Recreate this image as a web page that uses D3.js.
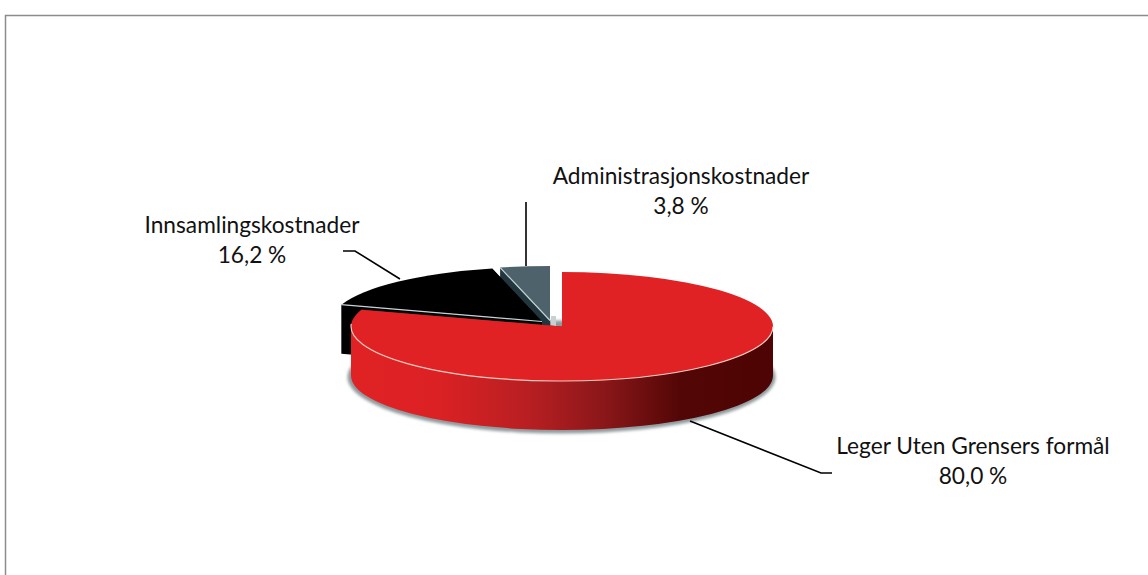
<!DOCTYPE html>
<html>
<head>
<meta charset="utf-8">
<script src="https://cdnjs.cloudflare.com/ajax/libs/d3/7.8.5/d3.min.js"></script>
<style>
  body { margin: 0; background: #fff; }
  svg { display: block; }
  text { font-family: Lato, "Open Sans", sans-serif; font-size: 22.7px; fill: #111; text-anchor: middle; }
</style>
</head>
<body>
<div id="chart"></div>
<script>
const categories = ["Leger Uten Grensers formål", "Innsamlingskostnader", "Administrasjonskostnader"];
const values = [80.0, 16.2, 3.8];
const valueLabels = ["80,0 %", "16,2 %", "3,8 %"];

const width = 1148;
const height = 575;
const cx = 562;
const cy = 326.5;
const rx = 211;
const ry = 54.5;
const depth = 49;

// how far each slice is pulled out of the pie, in pixels
const offsets = [[0, 0], [-20, -5], [-12, -6]];
const faceColors = ["#e02224", "#000000", "#4e626b"];
const cutColors = ["#a01a1c", "#000000", "#22363e"];
const labelPos = [[973, 454], [252, 233], [681, 184]];
const leaders = [
    [[690, 421], [821, 473], [832, 473]],
    [[400, 279], [355, 251], [343, 251]],
    [[526, 266], [526, 202]]
];

const svg = d3.select("#chart").append("svg")
    .attr("width", width)
    .attr("height", height);

const defs = svg.append("defs");

const wallGradient = defs.append("linearGradient")
    .attr("id", "wall")
    .attr("gradientUnits", "userSpaceOnUse")
    .attr("x1", cx - rx).attr("x2", cx + rx)
    .attr("y1", 0).attr("y2", 0);
[[0, "#e02224"], [0.2, "#dc2124"], [0.42, "#b81f22"], [0.6, "#8a1719"], [0.78, "#530606"], [1, "#4e0404"]]
    .forEach(s => wallGradient.append("stop").attr("offset", s[0]).attr("stop-color", s[1]));

defs.append("filter").attr("id", "blur")
    .attr("x", "-10%").attr("y", "-20%").attr("width", "120%").attr("height", "140%")
    .append("feGaussianBlur").attr("stdDeviation", 1.6);

// chart frame, right and bottom sides run off the picture
svg.append("rect")
    .attr("x", 5.5).attr("y", 15.5)
    .attr("width", 1160).attr("height", 580)
    .attr("fill", "#fff")
    .attr("stroke", "#8c8c8c")
    .attr("stroke-width", 1.5);

const pie = d3.pie().sort(null)(values);

// position on the tilted rim for a pie angle (0 = 12 o'clock, clockwise)
const rim = (a, o) => [cx + o[0] + rx * Math.sin(a), cy + o[1] - ry * Math.cos(a)];

const arc = d3.arc().innerRadius(0).outerRadius(1);

function wallPath(a0, a1, o) {
    const p0 = rim(a0, o);
    const p1 = rim(a1, o);
    const large = a1 - a0 > Math.PI ? 1 : 0;
    return `M${p0[0]},${p0[1]}A${rx},${ry} 0 ${large} 1 ${p1[0]},${p1[1]}` +
        `L${p1[0]},${p1[1] + depth}A${rx},${ry} 0 ${large} 0 ${p0[0]},${p0[1] + depth}Z`;
}

function cutPath(a, o) {
    const p = rim(a, o);
    const ax = cx + o[0];
    const ay = cy + o[1];
    return `M${ax},${ay}L${p[0]},${p[1]}L${p[0]},${p[1] + depth}L${ax},${ay + depth}Z`;
}

// soft shadow under the big slice
svg.append("ellipse")
    .attr("cx", cx - 0.5).attr("cy", cy + depth + 1.5)
    .attr("rx", rx + 3).attr("ry", ry + 2)
    .attr("fill", "#8f9a9c")
    .attr("filter", "url(#blur)");

// small shadow in the gap beside the grey slice
svg.append("rect")
    .attr("x", 551).attr("y", 316).attr("width", 5).attr("height", 10)
    .attr("fill", "#c9d0d2");

// back to front: grey, black, red
[2, 1, 0].forEach(i => {
    const d = pie[i];
    const o = offsets[i];
    const g = svg.append("g").attr("class", "slice");

    g.append("path").attr("d", cutPath(d.startAngle, o)).attr("fill", cutColors[i]);
    g.append("path").attr("d", cutPath(d.endAngle, o)).attr("fill", cutColors[i]);

    // only the front half of the rim shows
    const a0 = Math.max(d.startAngle, Math.PI / 2);
    const a1 = Math.min(d.endAngle, Math.PI * 3 / 2);
    if (a1 > a0) {
        g.append("path").attr("d", wallPath(a0, a1, o)).attr("fill", "url(#wall)");
    }

    g.append("path")
        .attr("d", arc(d))
        .attr("transform", `translate(${cx + o[0]},${cy + o[1]}) scale(${rx},${ry})`)
        .attr("fill", faceColors[i]);

    // pale highlight along the visible top edges
    if (i === 0) {
        const p0 = rim(Math.PI / 2, o);
        const p1 = rim(Math.PI * 3 / 2 + 0.05, o);
        g.append("path")
            .attr("d", `M${p0[0]},${p0[1]}A${rx},${ry} 0 1 1 ${p1[0]},${p1[1]}`)
            .attr("fill", "none")
            .attr("stroke", "#f3c9c0")
            .attr("stroke-width", 1.2);
    } else {
        const p = rim(d.startAngle, o);
        g.append("line")
            .attr("x1", cx + o[0]).attr("y1", cy + o[1])
            .attr("x2", p[0]).attr("y2", p[1])
            .attr("stroke", "#c5d2d6")
            .attr("stroke-width", 1.2);
    }
});

const line = d3.line();
leaders.forEach(l => {
    svg.append("path")
        .attr("d", line(l))
        .attr("fill", "none")
        .attr("stroke", "#000")
        .attr("stroke-width", 1.6);
});

categories.forEach((c, i) => {
    svg.append("text").attr("x", labelPos[i][0]).attr("y", labelPos[i][1]).text(c);
    svg.append("text").attr("x", labelPos[i][0]).attr("y", labelPos[i][1] + 30).text(valueLabels[i]);
});
</script>
</body>
</html>
